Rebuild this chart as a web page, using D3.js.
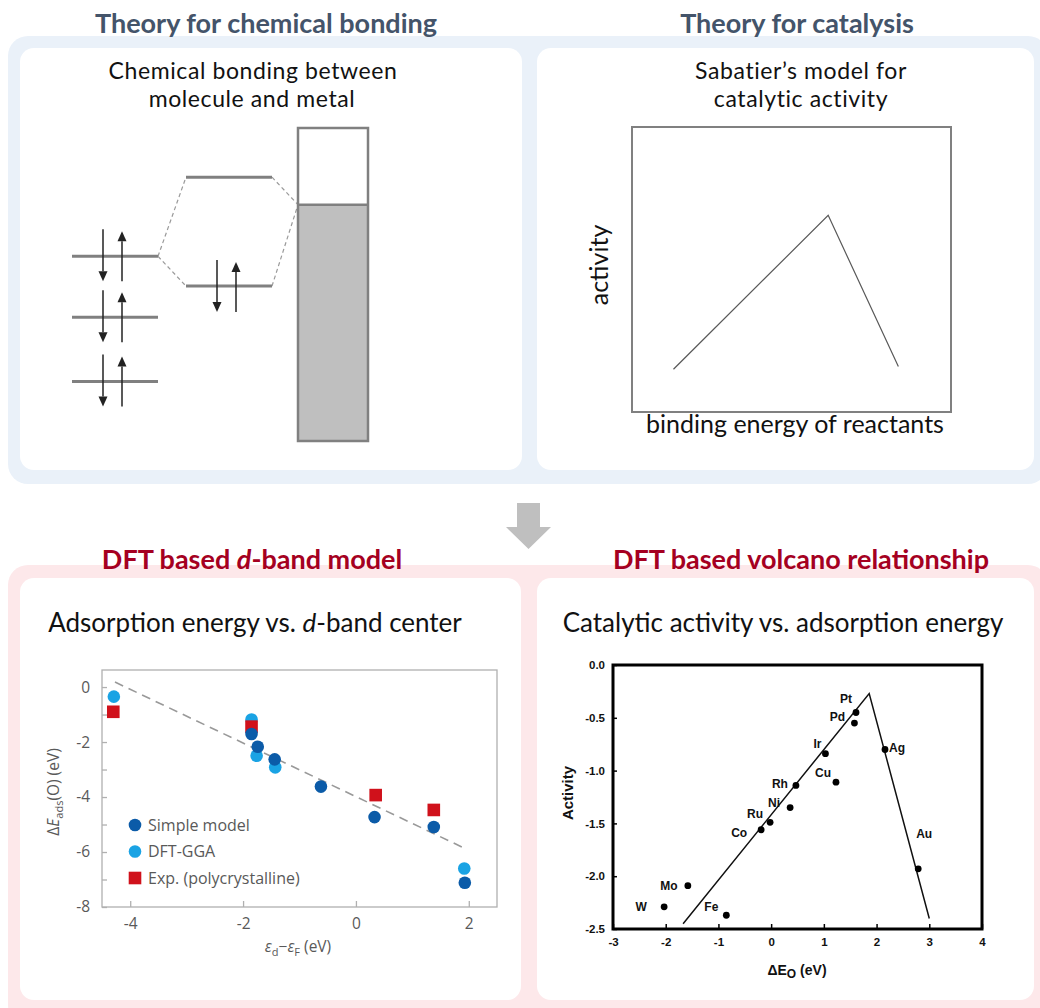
<!DOCTYPE html>
<html>
<head>
<meta charset="utf-8">
<script src="https://cdn.jsdelivr.net/npm/d3@7"></script>
<style>
  body { margin: 0; background: #fff; }
  svg { display: block; }
</style>
</head>
<body>
<svg id="fig" width="1040" height="1008"></svg>
<script>
// ---------- data ----------
// bonding diagram, schematic energies (arbitrary units)
var moleculeLevels = [-4.1, -6.05, -8.1];
var adsorbateLevels = [-1.57, -5.05];      // antibonding, bonding
var bandEdges = [0, -10];
var fermiLevel = -2.45;

// Sabatier sketch, relative units
var sabatierX = [0.13, 0.615, 0.835];
var sabatierY = [0.15, 0.69, 0.16];

// d-band model: adsorption energy vs d-band centre
var simpleX = [-1.85, -1.74, -1.44, -0.62, 0.33, 1.38, 1.93];
var simpleY = [-1.71, -2.17, -2.63, -3.62, -4.73, -5.09, -7.12];
var ggaX = [-4.29, -1.85, -1.76, -1.43, 1.92];
var ggaY = [-0.35, -1.18, -2.5, -2.92, -6.6];
var expX = [-4.3, -1.85, 0.35, 1.38];
var expY = [-0.9, -1.44, -3.93, -4.47];
var fitX = [-4.27, 1.88];
var fitY = [0.18, -5.82];
var dbandXTicks = [-4, -2, 0, 2];
var dbandYTicks = [0, -2, -4, -6, -8];
var legendLabels = ["Simple model", "DFT-GGA", "Exp. (polycrystalline)"];

// volcano: activity vs oxygen binding energy
var metals = ["W", "Mo", "Fe", "Co", "Ru", "Ni", "Rh", "Cu", "Ir", "Pd", "Pt", "Ag", "Au"];
var dEO = [-2.03, -1.58, -0.85, -0.19, -0.02, 0.36, 0.47, 1.23, 1.03, 1.58, 1.61, 2.16, 2.79];
var activity = [-2.29, -2.09, -2.37, -1.56, -1.49, -1.35, -1.14, -1.11, -0.84, -0.55, -0.45, -0.8, -1.93];
var volcanoX = [-1.67, 1.86, 3.0];
var volcanoY = [-2.45, -0.27, -2.4];
var volcanoXTicks = [-3, -2, -1, 0, 1, 2, 3, 4];
var volcanoYTicks = [0, -0.5, -1, -1.5, -2, -2.5];

// ---------- page frame ----------
var svg = d3.select("#fig");
var calibri = "Lato, 'Open Sans', sans-serif";

svg.append("rect").attr("x", 8).attr("y", 36).attr("width", 1040).attr("height", 448)
  .attr("rx", 20).attr("fill", "#eaf1f9");
svg.append("rect").attr("x", 8).attr("y", 565).attr("width", 1040).attr("height", 460)
  .attr("rx", 20).attr("fill", "#fde8ea");

var panels = [[20, 48, 502, 422], [537, 48, 497, 422], [20, 578, 501, 422], [537, 578, 497, 422]];
svg.selectAll("rect.panel").data(panels).enter().append("rect")
  .attr("class", "panel")
  .attr("x", function(d) { return d[0]; })
  .attr("y", function(d) { return d[1]; })
  .attr("width", function(d) { return d[2]; })
  .attr("height", function(d) { return d[3]; })
  .attr("rx", 14).attr("fill", "#fff");

// down arrow between rows
svg.append("path")
  .attr("d", "M517,503 L540,503 L540,527 L551,527 L528.5,549 L506,527 L517,527 Z")
  .attr("fill", "#bfbfbf");

// section titles
function title(x, y, parts, color, size, weight, spacing) {
  var t = svg.append("text").attr("x", x).attr("y", y)
    .attr("text-anchor", "middle")
    .style("font-family", calibri).style("font-size", size + "px")
    .style("font-weight", weight).attr("fill", color);
  if (spacing) t.style("letter-spacing", spacing + "px");
  parts.forEach(function(p) {
    t.append("tspan").text(p[0]).style("font-style", p[1] ? "italic" : "normal");
  });
  return t;
}
title(266, 33, [["Theory for chemical bonding"]], "#44546a", 27, "bold");
title(797, 33, [["Theory for catalysis"]], "#44546a", 27, "bold");
title(252, 569, [["DFT based "], ["d", true], ["-band model"]], "#a50021", 27, "bold");
title(801, 569, [["DFT based volcano relationship"]], "#a50021", 27, "bold");

title(253, 79, [["Chemical bonding between"]], "#111", 23, "normal", 0.6);
title(252, 107, [["molecule and metal"]], "#111", 23, "normal", 0.6);
title(801, 79, [["Sabatier\u2019s model for"]], "#111", 23, "normal", 0.6);
title(801, 107, [["catalytic activity"]], "#111", 23, "normal", 0.6);
title(255, 632, [["Adsorption energy vs. "], ["d", true], ["-band center"]], "#111", 26, "normal");
title(783, 632, [["Catalytic activity vs. adsorption energy"]], "#111", 26, "normal");

// ---------- bonding diagram ----------
var eY = d3.scaleLinear().domain(bandEdges).range([128, 441]);
var col = { mol: [72, 158], ads: [186, 272], band: [298, 368] };
var bond = svg.append("g");

function spinPair(g, xDown, xUp, yLevel) {
  var half = 25, head = 10, w = 4.5;
  g.append("line").attr("x1", xDown).attr("x2", xDown)
    .attr("y1", yLevel - half - 2).attr("y2", yLevel + half - head)
    .attr("stroke", "#222").attr("stroke-width", 1.5);
  g.append("path").attr("fill", "#222")
    .attr("d", "M" + (xDown - w) + "," + (yLevel + half - head) + " L" + (xDown + w) + "," + (yLevel + half - head) +
      " L" + xDown + "," + (yLevel + half) + " Z");
  g.append("line").attr("x1", xUp).attr("x2", xUp)
    .attr("y1", yLevel + half).attr("y2", yLevel - half + head)
    .attr("stroke", "#222").attr("stroke-width", 1.5);
  g.append("path").attr("fill", "#222")
    .attr("d", "M" + (xUp - w) + "," + (yLevel - half + head) + " L" + (xUp + w) + "," + (yLevel - half + head) +
      " L" + xUp + "," + (yLevel - half) + " Z");
}

// dashed correlation lines
var dashPts = [
  [[col.mol[1], eY(moleculeLevels[0])], [col.ads[0], eY(adsorbateLevels[0])]],
  [[col.mol[1], eY(moleculeLevels[0])], [col.ads[0], eY(adsorbateLevels[1])]],
  [[col.ads[1], eY(adsorbateLevels[0])], [col.band[0], eY(fermiLevel)]],
  [[col.ads[1], eY(adsorbateLevels[1])], [col.band[0], eY(fermiLevel)]]
];
bond.selectAll("line.dash").data(dashPts).enter().append("line")
  .attr("x1", function(d) { return d[0][0]; }).attr("y1", function(d) { return d[0][1]; })
  .attr("x2", function(d) { return d[1][0]; }).attr("y2", function(d) { return d[1][1]; })
  .attr("stroke", "#9a9a9a").attr("stroke-width", 1.2).attr("stroke-dasharray", "4,3");

bond.selectAll("line.mol").data(moleculeLevels).enter().append("line")
  .attr("x1", col.mol[0]).attr("x2", col.mol[1])
  .attr("y1", eY).attr("y2", eY)
  .attr("stroke", "#808080").attr("stroke-width", 3);
moleculeLevels.forEach(function(e) { spinPair(bond, 103, 122, eY(e)); });

bond.selectAll("line.ads").data(adsorbateLevels).enter().append("line")
  .attr("x1", col.ads[0]).attr("x2", col.ads[1])
  .attr("y1", eY).attr("y2", eY)
  .attr("stroke", "#808080").attr("stroke-width", 3);
spinPair(bond, 217, 236, eY(adsorbateLevels[1]) + 1);

// metal band
bond.append("rect").attr("x", col.band[0]).attr("y", eY(fermiLevel))
  .attr("width", col.band[1] - col.band[0]).attr("height", eY(bandEdges[1]) - eY(fermiLevel))
  .attr("fill", "#bfbfbf");
bond.append("rect").attr("x", col.band[0]).attr("y", eY(bandEdges[0]))
  .attr("width", col.band[1] - col.band[0]).attr("height", eY(bandEdges[1]) - eY(bandEdges[0]))
  .attr("fill", "none").attr("stroke", "#808080").attr("stroke-width", 2.5);
bond.append("line").attr("x1", col.band[0]).attr("x2", col.band[1])
  .attr("y1", eY(fermiLevel)).attr("y2", eY(fermiLevel))
  .attr("stroke", "#808080").attr("stroke-width", 2.5);

// ---------- Sabatier sketch ----------
var sx = d3.scaleLinear().domain([0, 1]).range([632, 951]);
var sy = d3.scaleLinear().domain([0, 1]).range([412, 127]);
svg.append("rect").attr("x", sx(0)).attr("y", sy(1))
  .attr("width", sx(1) - sx(0)).attr("height", sy(0) - sy(1))
  .attr("fill", "none").attr("stroke", "#808080").attr("stroke-width", 2);
svg.append("path")
  .datum(d3.zip(sabatierX, sabatierY))
  .attr("d", d3.line().x(function(d) { return sx(d[0]); }).y(function(d) { return sy(d[1]); }))
  .attr("fill", "none").attr("stroke", "#595959").attr("stroke-width", 1.2);
svg.append("text").attr("transform", "translate(608,265) rotate(-90)")
  .attr("text-anchor", "middle").style("font-family", calibri).style("font-size", "25px")
  .attr("fill", "#111").text("activity");
svg.append("text").attr("x", 795).attr("y", 433)
  .attr("text-anchor", "middle").style("font-family", calibri).style("font-size", "25px")
  .attr("fill", "#111").text("binding energy of reactants");

// ---------- d-band chart ----------
var myriad = "'Open Sans', 'Noto Sans', sans-serif";
var grey = "#595959";
var xD = d3.scaleLinear().domain([-4.5, 2.5]).range([102, 497]);
var yD = d3.scaleLinear().domain([-8, 0.62]).range([907, 670]);
var gD = svg.append("g");

gD.append("rect").attr("x", xD.range()[0]).attr("y", yD.range()[1])
  .attr("width", xD.range()[1] - xD.range()[0]).attr("height", yD.range()[0] - yD.range()[1])
  .attr("fill", "none").attr("stroke", "#b0b0b0").attr("stroke-width", 1.3);

var axYD = gD.append("g").attr("transform", "translate(" + xD.range()[0] + ",0)")
  .call(d3.axisLeft(yD).tickValues(d3.range(-8, 1)).tickSizeInner(-5).tickSizeOuter(0).tickPadding(12)
    .tickFormat(function(d) { return dbandYTicks.indexOf(d) >= 0 ? (d < 0 ? "-" + (-d) : d) : ""; }));
var axXD = gD.append("g").attr("transform", "translate(0," + yD.range()[0] + ")")
  .call(d3.axisBottom(xD).tickValues(dbandXTicks).tickSizeInner(-6).tickSizeOuter(0).tickPadding(11)
    .tickFormat(function(d) { return d < 0 ? "-" + (-d) : d; }));
[axYD, axXD].forEach(function(a) {
  a.select(".domain").remove();
  a.selectAll("line").attr("stroke", "#b0b0b0").attr("stroke-width", 1.3);
  a.selectAll("text").attr("fill", grey).style("font-family", myriad).style("font-size", "15.5px");
});

gD.append("line")
  .attr("x1", xD(fitX[0])).attr("y1", yD(fitY[0]))
  .attr("x2", xD(fitX[1])).attr("y2", yD(fitY[1]))
  .attr("stroke", "#999").attr("stroke-width", 1.6).attr("stroke-dasharray", "9,6");

var cSimple = "#0b5ba8", cGGA = "#1aa3e4", cExp = "#d0111b";
gD.selectAll("circle.gga").data(d3.zip(ggaX, ggaY)).enter().append("circle")
  .attr("cx", function(d) { return xD(d[0]); }).attr("cy", function(d) { return yD(d[1]); })
  .attr("r", 6.3).attr("fill", cGGA);
gD.selectAll("rect.exp").data(d3.zip(expX, expY)).enter().append("rect")
  .attr("x", function(d) { return xD(d[0]) - 6.3; }).attr("y", function(d) { return yD(d[1]) - 6.3; })
  .attr("width", 12.6).attr("height", 12.6).attr("fill", cExp);
gD.selectAll("circle.simple").data(d3.zip(simpleX, simpleY)).enter().append("circle")
  .attr("cx", function(d) { return xD(d[0]); }).attr("cy", function(d) { return yD(d[1]); })
  .attr("r", 6.3).attr("fill", cSimple);

// legend
var legendColors = [cSimple, cGGA, cExp];
var leg = gD.selectAll("g.leg").data(legendLabels).enter().append("g")
  .attr("transform", function(d, i) { return "translate(135," + (825 + i * 26.5) + ")"; });
leg.each(function(d, i) {
  var g = d3.select(this);
  if (i < 2) g.append("circle").attr("r", 6.3).attr("fill", legendColors[i]);
  else g.append("rect").attr("x", -6.3).attr("y", -6.3).attr("width", 12.6).attr("height", 12.6).attr("fill", legendColors[i]);
  g.append("text").attr("x", 13).attr("dy", "0.35em").attr("fill", grey)
    .style("font-family", myriad).style("font-size", "16px").text(d);
});

// axis titles
var ylab = gD.append("text").attr("transform", "translate(59,792) rotate(-90)")
  .attr("text-anchor", "middle").attr("fill", grey)
  .style("font-family", myriad).style("font-size", "15.5px");
ylab.append("tspan").text("\u0394");
ylab.append("tspan").style("font-style", "italic").text("E");
ylab.append("tspan").attr("dy", 4).style("font-size", "11px").text("ads");
ylab.append("tspan").attr("dy", -4).text("(O) (eV)");

var xlab = gD.append("text").attr("x", 298).attr("y", 952)
  .attr("text-anchor", "middle").attr("fill", grey)
  .style("font-family", myriad).style("font-size", "15.5px");
xlab.append("tspan").style("font-style", "italic").text("\u03b5");
xlab.append("tspan").attr("dy", 4).style("font-size", "11px").text("d");
xlab.append("tspan").attr("dy", -4).text("\u2212");
xlab.append("tspan").style("font-style", "italic").text("\u03b5");
xlab.append("tspan").attr("dy", 4).style("font-size", "11px").text("F");
xlab.append("tspan").attr("dy", -4).text(" (eV)");

// ---------- volcano chart ----------
var arial = "'Liberation Sans', Arial, sans-serif";
var xV = d3.scaleLinear().domain([-3, 4]).range([613, 982]);
var yV = d3.scaleLinear().domain([-2.5, 0]).range([929, 665]);
var gV = svg.append("g");

var axYV = gV.append("g").attr("transform", "translate(" + xV.range()[0] + ",0)")
  .call(d3.axisLeft(yV).tickValues(volcanoYTicks).tickSizeInner(-4).tickSizeOuter(0).tickPadding(8)
    .tickFormat(function(d) { return d < 0 ? "-" + (-d).toFixed(1) : d.toFixed(1); }));
var axXV = gV.append("g").attr("transform", "translate(0," + yV.range()[0] + ")")
  .call(d3.axisBottom(xV).tickValues(volcanoXTicks).tickSizeInner(-5).tickSizeOuter(0).tickPadding(9)
    .tickFormat(function(d) { return d < 0 ? "-" + (-d) : d; }));
[axYV, axXV].forEach(function(a) {
  a.select(".domain").remove();
  a.selectAll("line").attr("stroke", "#000").attr("stroke-width", 1.5);
  a.selectAll("text").attr("fill", "#111").style("font-family", arial)
    .style("font-size", "11.5px").style("font-weight", "bold");
});
gV.append("rect").attr("x", xV.range()[0]).attr("y", yV.range()[1])
  .attr("width", xV.range()[1] - xV.range()[0]).attr("height", yV.range()[0] - yV.range()[1])
  .attr("fill", "none").attr("stroke", "#000").attr("stroke-width", 3);

gV.append("path").datum(d3.zip(volcanoX, volcanoY))
  .attr("d", d3.line().x(function(d) { return xV(d[0]); }).y(function(d) { return yV(d[1]); }))
  .attr("fill", "none").attr("stroke", "#111").attr("stroke-width", 1.5);

gV.selectAll("circle.m").data(metals).enter().append("circle")
  .attr("cx", function(d, i) { return xV(dEO[i]); })
  .attr("cy", function(d, i) { return yV(activity[i]); })
  .attr("r", 3.4).attr("fill", "#000");

// label offsets in px from each point
var labelShift = {
  W: [-23, 0], Mo: [-19, 0], Fe: [-15, -8], Co: [-22, 3], Ru: [-15, -9], Ni: [-16, -5],
  Rh: [-16, -2], Cu: [-13, -9], Ir: [-8, -10], Pd: [-17, -6], Pt: [-10, -14], Ag: [12, -2], Au: [6, -35]
};
gV.selectAll("text.m").data(metals).enter().append("text")
  .attr("x", function(d, i) { return xV(dEO[i]) + labelShift[d][0]; })
  .attr("y", function(d, i) { return yV(activity[i]) + labelShift[d][1]; })
  .attr("dy", "0.35em").attr("text-anchor", "middle")
  .style("font-family", arial).style("font-size", "12px").style("font-weight", "bold")
  .attr("fill", "#111").text(function(d) { return d; });

gV.append("text").attr("transform", "translate(573,793) rotate(-90)")
  .attr("text-anchor", "middle").style("font-family", arial).style("font-size", "15px")
  .style("font-weight", "bold").attr("fill", "#111").text("Activity");
var vx = gV.append("text").attr("x", 797).attr("y", 975).attr("text-anchor", "middle")
  .style("font-family", arial).style("font-size", "14px").style("font-weight", "bold").attr("fill", "#111");
vx.append("tspan").text("\u0394E");
vx.append("tspan").attr("dy", 3).style("font-size", "12px").text("O");
vx.append("tspan").attr("dy", -3).text(" (eV)");
</script>
</body>
</html>
